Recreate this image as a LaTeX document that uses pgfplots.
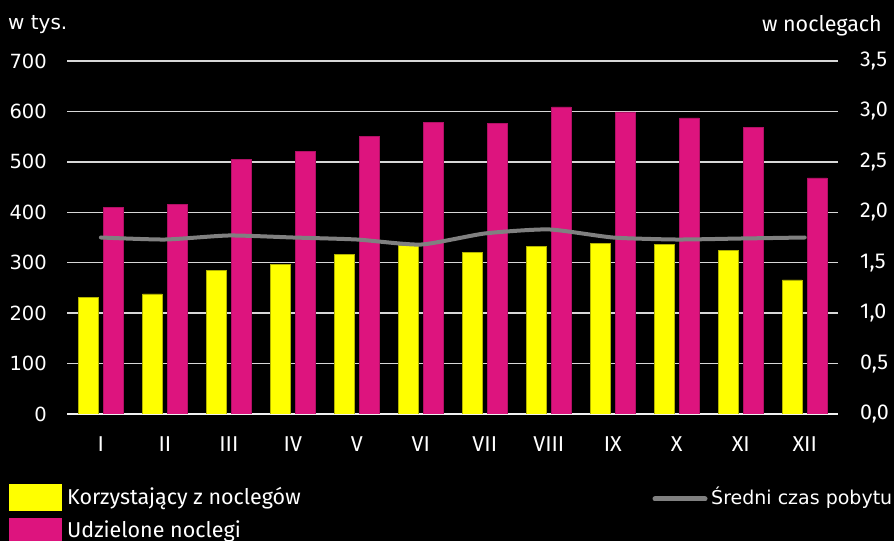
\documentclass[border=0pt]{standalone}
\usepackage{fontspec}
\setmainfont{Fira Sans}
\newfontfamily\dejavu{DejaVu Sans}
\usepackage{pgfplots}
\pgfplotsset{compat=1.18}
\definecolor{myyellow}{RGB}{255,255,0}
\definecolor{mymag}{RGB}{221,20,126}
\definecolor{gridc}{RGB}{215,215,215}
\definecolor{linec}{RGB}{128,128,128}
\begin{document}
\begin{tikzpicture}
\path[fill=black, use as bounding box] (0,0) rectangle (894bp,541bp);
\begin{axis}[
  at={(67bp,127bp)}, anchor=south west, scale only axis,
  width=771bp, height=353bp,
  xmin=-0.53, xmax=11.52, ymin=0, ymax=700,
  axis line style={draw=none}, major tick length=0pt, tick style={draw=none},
  xtick={0,...,11}, xticklabels={I,II,III,IV,V,VI,VII,VIII,IX,X,XI,XII},
  ytick={0,100,200,300,400,500,600,700},
  yticklabels={0,100,200,300,400,500,600,700},
  ymajorgrids, grid style={gridc, line width=1.5bp},
  extra y ticks={0}, extra y tick labels={},
  extra y tick style={grid style={white!88!gray, line width=2.2bp}},
  ticklabel style={text=white},
  xticklabel style={font=\fontsize{21.5bp}{25bp}\selectfont, anchor=north, inner sep=0pt, yshift=-22bp},
  yticklabel style={font=\dejavu\fontsize{19.5bp}{24bp}\selectfont, anchor=east, inner sep=0pt, xshift=-20bp},
  ybar, bar width=19.5bp,
]
\addplot[fill=myyellow, draw=myyellow!70!black, line width=0.6bp, bar shift=-12.5bp]
  coordinates {(0,232) (1,238) (2,285) (3,297) (4,317) (5,334) (6,321) (7,333) (8,339) (9,337) (10,325) (11,266)};
\addplot[fill=mymag, draw=mymag!80!black, line width=0.6bp, bar shift=12.5bp]
  coordinates {(0,409) (1,415) (2,505) (3,521) (4,551) (5,579) (6,577) (7,609) (8,599) (9,587) (10,569) (11,468)};
\end{axis}
\begin{axis}[
  at={(67bp,127bp)}, anchor=south west, scale only axis,
  width=771bp, height=353bp,
  xmin=-0.53, xmax=11.52, ymin=0, ymax=3.5,
  axis y line*=right, hide x axis,
  axis line style={draw=none}, major tick length=0pt, tick style={draw=none},
  ytick={0,0.5,1,1.5,2,2.5,3,3.5},
  yticklabels={{0,0},{0,5},{1,0},{1,5},{2,0},{2,5},{3,0},{3,5}},
  yticklabel style={font=\fontsize{21.5bp}{25bp}\selectfont, anchor=west, inner sep=0pt, xshift=22bp, text=white},
]
\addplot[linec, line width=4bp, line cap=round, line join=round, smooth, tension=0.35]
  coordinates {(0,1.75) (1,1.73) (2,1.77) (3,1.75) (4,1.73) (5,1.68) (6,1.79) (7,1.83) (8,1.75) (9,1.73) (10,1.74) (11,1.75)};
\end{axis}
\node[anchor=base west, inner sep=0pt, text=white, font=\dejavu\fontsize{20bp}{24bp}\selectfont] at (8bp,511bp) {w tys.};
\node[anchor=base east, inner sep=0pt, text=white, font=\fontsize{21.5bp}{25bp}\selectfont] at (882bp,509bp) {w noclegach};
\fill[myyellow] (9bp,30bp) rectangle (62bp,57bp);
\fill[mymag] (9bp,-4bp) rectangle (62bp,23bp);
\node[anchor=base west, inner sep=0pt, text=white, font=\fontsize{21.5bp}{25bp}\selectfont] at (67bp,37bp) {Korzystający z noclegów};
\node[anchor=base west, inner sep=0pt, text=white, font=\fontsize{21.5bp}{25bp}\selectfont] at (67bp,4bp) {Udzielone noclegi};
\draw[linec, line width=5bp, line cap=round] (655bp,42bp) -- (705bp,42bp);
\node[anchor=base west, inner sep=0pt, text=white, font=\dejavu\fontsize{19bp}{24bp}\selectfont] at (711bp,37bp) {Średni czas pobytu};
\end{tikzpicture}
\end{document}
